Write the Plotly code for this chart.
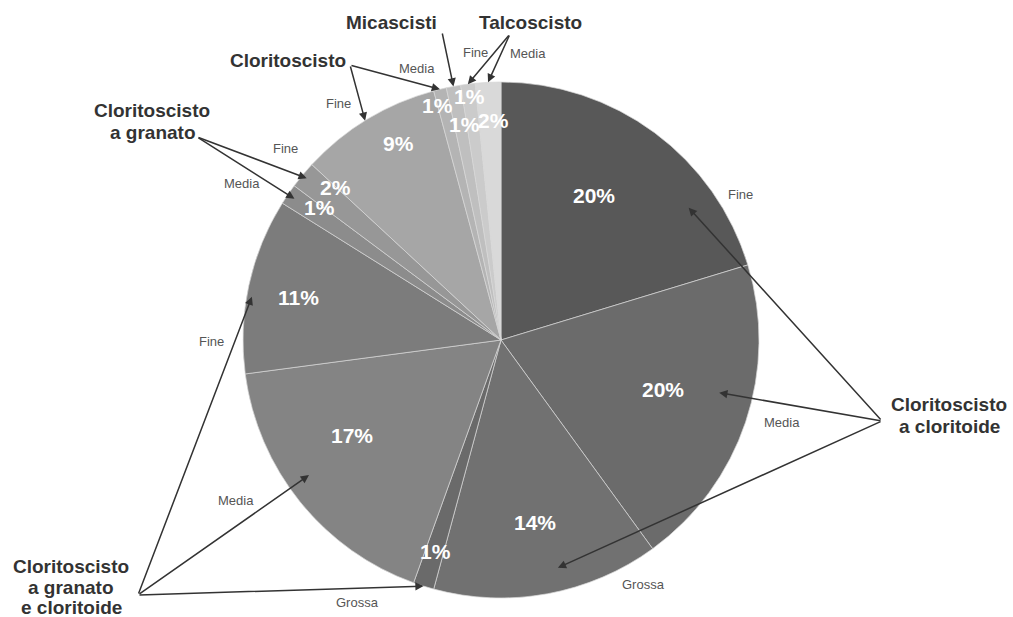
import plotly.graph_objects as go
import math

# ---- data (clockwise from 12 o'clock) ----
rock_types = ["Cloritoscisto a cloritoide", "Cloritoscisto a cloritoide", "Cloritoscisto a cloritoide",
              "Cloritoscisto a granato e cloritoide", "Cloritoscisto a granato e cloritoide",
              "Cloritoscisto a granato e cloritoide",
              "Cloritoscisto a granato", "Cloritoscisto a granato",
              "Cloritoscisto", "Cloritoscisto",
              "Micascisti",
              "Talcoscisto", "Talcoscisto"]
grain_sizes = ["Fine", "Media", "Grossa",
               "Grossa", "Media", "Fine",
               "Media", "Fine",
               "Fine", "Media",
               "",
               "Fine", "Media"]
shares = [20.3, 19.7, 14.2, 1.3, 17.4, 11.0, 1.3, 1.7, 8.9, 0.8, 0.9, 0.9, 1.6]

# ---- styles ----
slice_colors = ["#585858", "#6b6b6b", "#717171", "#6a6a6a", "#848484", "#7c7c7c",
                "#8c8c8c", "#979797", "#a6a6a6", "#b4b4b4", "#bfbfbf", "#cbcbcb", "#d9d9d9"]
W, H = 1013, 617
CX, CY, R = 501, 340, 258
FONT = "Arial, Liberation Sans, sans-serif"
# percent-label placement per slice: (fraction along the slice angle, radius fraction)
pct_place = [(0.45, 0.665), (0.48, 0.655), (0.50, 0.72), (0.45, 0.86), (0.60, 0.685), (0.49, 0.80),
             (0.90, 0.87), (0.97, 0.87), (0.61, 0.86), (0.0, 0.94), (0.84, 0.845), (0.53, 0.95),
             (0.64, 0.85)]

fig = go.Figure()
fig.add_trace(go.Pie(
    labels=[f"{r} – {g}" if g else r for r, g in zip(rock_types, grain_sizes)],
    values=shares,
    sort=False,
    direction="clockwise",
    rotation=0,
    marker=dict(colors=slice_colors, line=dict(color="rgba(215,215,215,0.7)", width=1)),
    textinfo="none",
    domain=dict(x=[(CX - R) / W, (CX + R) / W], y=[(H - CY - R) / H, (H - CY + R) / H]),
    showlegend=False,
    hoverinfo="label+percent",
))
# invisible pixel-space axes for labels and callouts
fig.add_trace(go.Scatter(x=[], y=[], showlegend=False, hoverinfo="skip"))

# slice angles (computed from the data)
total = sum(shares)
starts, ends = [], []
acc = 0.0
for v in shares:
    starts.append(acc / total * 360)
    acc += v
    ends.append(acc / total * 360)

def slice_point(i, t, rf):
    ang = math.radians(starts[i] + t * (ends[i] - starts[i]))
    return CX + rf * R * math.sin(ang), CY - rf * R * math.cos(ang)

# percentage labels
for i, v in enumerate(shares):
    px, py = slice_point(i, *pct_place[i])
    fig.add_annotation(x=px, y=py, xref="x", yref="y", text=f"{round(v / total * 100)}%",
                       showarrow=False,
                       font=dict(family=FONT, size=21, color="white", weight="bold"))

# callout groups: label lines, arrow tail, arrows (slice, t, rf, grain label pos)
groups = [
    dict(lines=[("Cloritoscisto", 949, 404), ("a cloritoide", 949, 426)], tail=(882, 421),
         arrows=[(0, 0.75, 0.89, (740, 194)), (1, 0.43, 0.87, (782, 422)), (2, 0.43, 0.91, (643, 584))]),
    dict(lines=[("Cloritoscisto", 71, 566), ("a granato", 71, 587), ("e cloritoide", 71, 607)],
         tail=(138, 595),
         arrows=[(3, 0.5, 1.0, (357, 602)), (4, 0.56, 0.91, (236, 500)), (5, 0.44, 0.98, (211, 341))]),
    dict(lines=[("Cloritoscisto", 152, 110), ("a granato", 153, 132)], tail=(197, 137),
         arrows=[(6, 0.5, 0.97, (242, 183)), (7, 0.5, 0.98, (285, 148))]),
    dict(lines=[("Cloritoscisto", 288, 60)], tail=(350, 65),
         arrows=[(8, 0.48, 1.0, (338, 103)), (9, 0.5, 1.0, (417, 68))]),
    dict(lines=[("Micascisti", 391, 22)], tail=(442, 32),
         arrows=[(10, 0.5, 1.0, None)]),
    dict(lines=[("Talcoscisto", 530, 22)], tail=(510, 34),
         arrows=[(11, 0.5, 1.0, (475, 52)), (12, 0.5, 1.0, (528, 53))]),
]

for g in groups:
    for (txt, lx, ly) in g["lines"]:
        fig.add_annotation(x=lx, y=ly, xref="x", yref="y", text=txt, showarrow=False,
                           font=dict(family=FONT, size=19, color="#333333", weight="bold"))
    for (i, t, rf, lab) in g["arrows"]:
        hx, hy = slice_point(i, t, rf)
        fig.add_annotation(x=hx, y=hy, xref="x", yref="y", ax=g["tail"][0], ay=g["tail"][1],
                           axref="x", ayref="y", text="", showarrow=True,
                           arrowhead=2, arrowsize=1.1, arrowwidth=1.5, arrowcolor="#333333")
        if lab is not None and grain_sizes[i]:
            fig.add_annotation(x=lab[0], y=lab[1], xref="x", yref="y", text=grain_sizes[i],
                               showarrow=False, font=dict(family=FONT, size=13, color="#555555"))

fig.update_layout(
    width=W, height=H,
    margin=dict(l=0, r=0, t=0, b=0),
    paper_bgcolor="white", plot_bgcolor="rgba(0,0,0,0)",
    xaxis=dict(range=[0, W], domain=[0, 1], visible=False, fixedrange=True),
    yaxis=dict(range=[H, 0], domain=[0, 1], visible=False, fixedrange=True),
)

fig.write_html("out.html")
